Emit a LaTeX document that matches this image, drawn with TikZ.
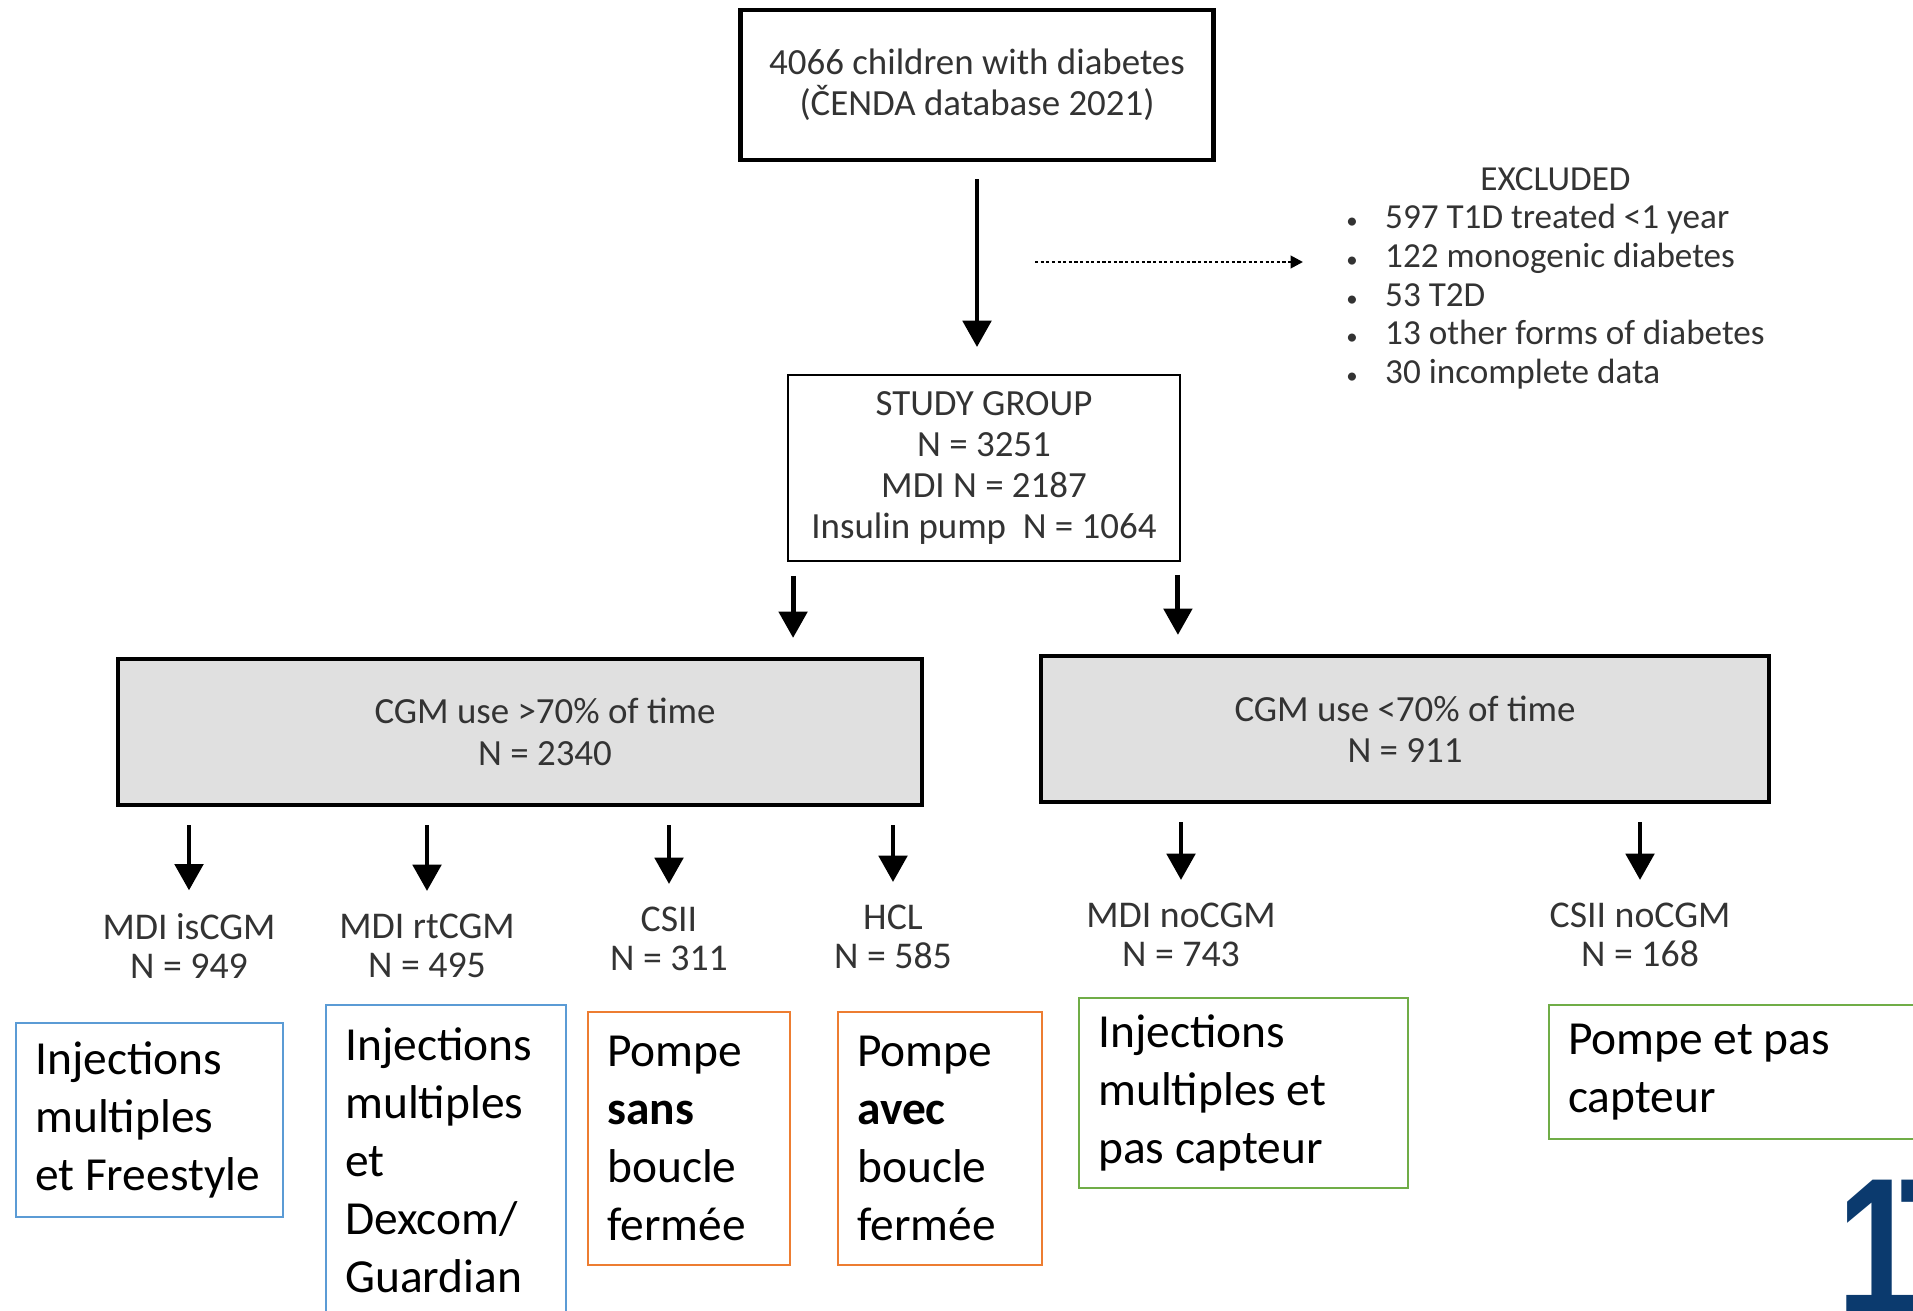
\documentclass[tikz,border=0pt]{standalone}
\usepackage{fontspec}
\setmainfont{Carlito}
\newfontfamily\numfont[FakeStretch=0.75]{Liberation Sans}
\usetikzlibrary{arrows.meta}
\definecolor{noteblue}{HTML}{5B9BD5}
\definecolor{noteorange}{HTML}{ED7D31}
\definecolor{notegreen}{HTML}{70AD47}
\definecolor{slideblue}{HTML}{0B3A6E}
\definecolor{cgmgray}{HTML}{E0E0E0}
\definecolor{txtgray}{HTML}{333333}

\begin{document}
\begin{tikzpicture}[x=0.02cm, y=-0.02cm,
    flow/.style = {align=center, text=txtgray, font=\fontsize{21}{23.5}\selectfont},
    topbox/.style = {flow, draw, line width=2.4pt, minimum width=9.46cm, minimum height=3cm},
    groupbox/.style = {flow, draw, line width=1.1pt, minimum width=7.84cm, minimum height=3.72cm},
    cgmbox/.style = {flow, draw, line width=2.4pt, fill=cgmgray, minimum height=2.92cm},
    lbl/.style = {flow, inner sep=0pt, font=\fontsize{21.5}{22.5}\selectfont},
    note/.style = {draw=#1, line width=1.4pt, anchor=north west, align=flush left,
                   inner xsep=0.38cm, font=\fontsize{27}{33}\selectfont},
    arr/.style = {line width=2.8pt, -{Triangle[width=16pt,length=15pt]}},
    down/.style = {arr, shorten <=0.36cm, shorten >=0.45cm},
    dots/.style = {line width=1.5pt, dash pattern=on 1.8pt off 1.4pt,
                   -{Triangle[width=7pt,length=7pt]}}]

\useasboundingbox (0,0) rectangle (1913,1311);

% flow chart
\node[topbox] (top) at (977,85) {4066 children with diabetes\\(ČENDA database 2021)};
\node[groupbox] (group) at (984,468) {STUDY GROUP\\N = 3251\\MDI N = 2187\\Insulin pump~~N = 1064};
\node[flow, inner sep=0pt, anchor=west, font=\fontsize{20}{22}\selectfont] (excl) at (1346,279)
  {\begin{tabular}{@{}l@{\hspace{0.55cm}}l@{}}
     \multicolumn{2}{c}{EXCLUDED}\\
     {\fontsize{13}{13}\selectfont\textbullet} & 597 T1D treated <1 year\\
     {\fontsize{13}{13}\selectfont\textbullet} & 122 monogenic diabetes\\
     {\fontsize{13}{13}\selectfont\textbullet} & 53 T2D\\
     {\fontsize{13}{13}\selectfont\textbullet} & 13 other forms of diabetes\\
     {\fontsize{13}{13}\selectfont\textbullet} & 30 incomplete data
   \end{tabular}};
\node[cgmbox, minimum width=16.08cm] (hi) at (520,732)
  {\hspace*{1cm}CGM use >70\% of time\\\hspace*{1cm}N = 2340};
\node[cgmbox, minimum width=14.56cm] (lo) at (1405,729) {CGM use <70\% of time\\N = 911};

\node[lbl] (iscgm) at (189,946) {MDI isCGM\\N = 949};
\node[lbl] (rtcgm) at (427,946) {MDI rtCGM\\N = 495};
\node[lbl] (csii) at (669,939) {CSII\\N = 311};
\node[lbl] (hcl) at (893,937) {HCL\\N = 585};
\node[lbl] (mdino) at (1181,935) {MDI noCGM\\N = 743};
\node[lbl] (csiino) at (1640,935) {CSII noCGM\\N = 168};

\coordinate (cut) at (1035,262);
\coordinate (gl) at ([xshift=0.12cm]group.south west);
\coordinate (gr) at ([xshift=-0.06cm]group.south east);

\draw[arr, shorten <=0.34cm, shorten >=0.54cm] (top.south) -- (top.south |- group.north);
\draw[dots, shorten >=0.86cm] (cut) -- (cut -| excl.west);
\draw[arr, shorten <=0.28cm, shorten >=0.38cm] (gl) -- (gl |- hi.north);
\draw[arr, shorten <=0.26cm, shorten >=0.38cm] (gr) -- (gr |- lo.north);

\draw[down] (hi.south -| iscgm) -- (iscgm.north);
\draw[down] (hi.south -| rtcgm) -- (rtcgm.north);
\draw[down] (hi.south -| csii) -- (csii.north);
\draw[down] (hi.south -| hcl) -- (hcl.north);
\draw[down] (lo.south -| mdino) -- (mdino.north);
\draw[down] (lo.south -| csiino) -- (csiino.north);

% notes
\node[note=noteblue, text width=4.58cm, minimum height=3.88cm] (n1) at (15,1022)
  {Injections\\multiples\\et Freestyle};
\node[note=noteblue, text width=4.04cm, minimum height=6.2cm] (n2) at (325,1004)
  {Injections\\multiples\\et\\Dexcom/\\Guardian};
\node[note=noteorange, text width=3.28cm, minimum height=5.06cm] (n3) at (587,1011)
  {Pompe\\\textbf{sans}\\boucle\\fermée};
\node[note=noteorange, text width=3.32cm, minimum height=5.06cm] (n4) at (837,1011)
  {Pompe\\\textbf{avec}\\boucle\\fermée};
\node[note=notegreen, text width=5.82cm, minimum height=3.8cm] (n5) at (1078,997)
  {Injections\\multiples et\\pas capteur};
\node[note=notegreen, text width=6.84cm, minimum height=2.68cm] (n6) at (1548,1004)
  {Pompe et pas\\capteur};

\node[anchor=base west, inner sep=0pt, text=slideblue,
      font=\numfont\fontsize{112}{112}\selectfont\bfseries] (page) at (1837,1315) {1\kern-0.12em7};
\end{tikzpicture}
\end{document}
